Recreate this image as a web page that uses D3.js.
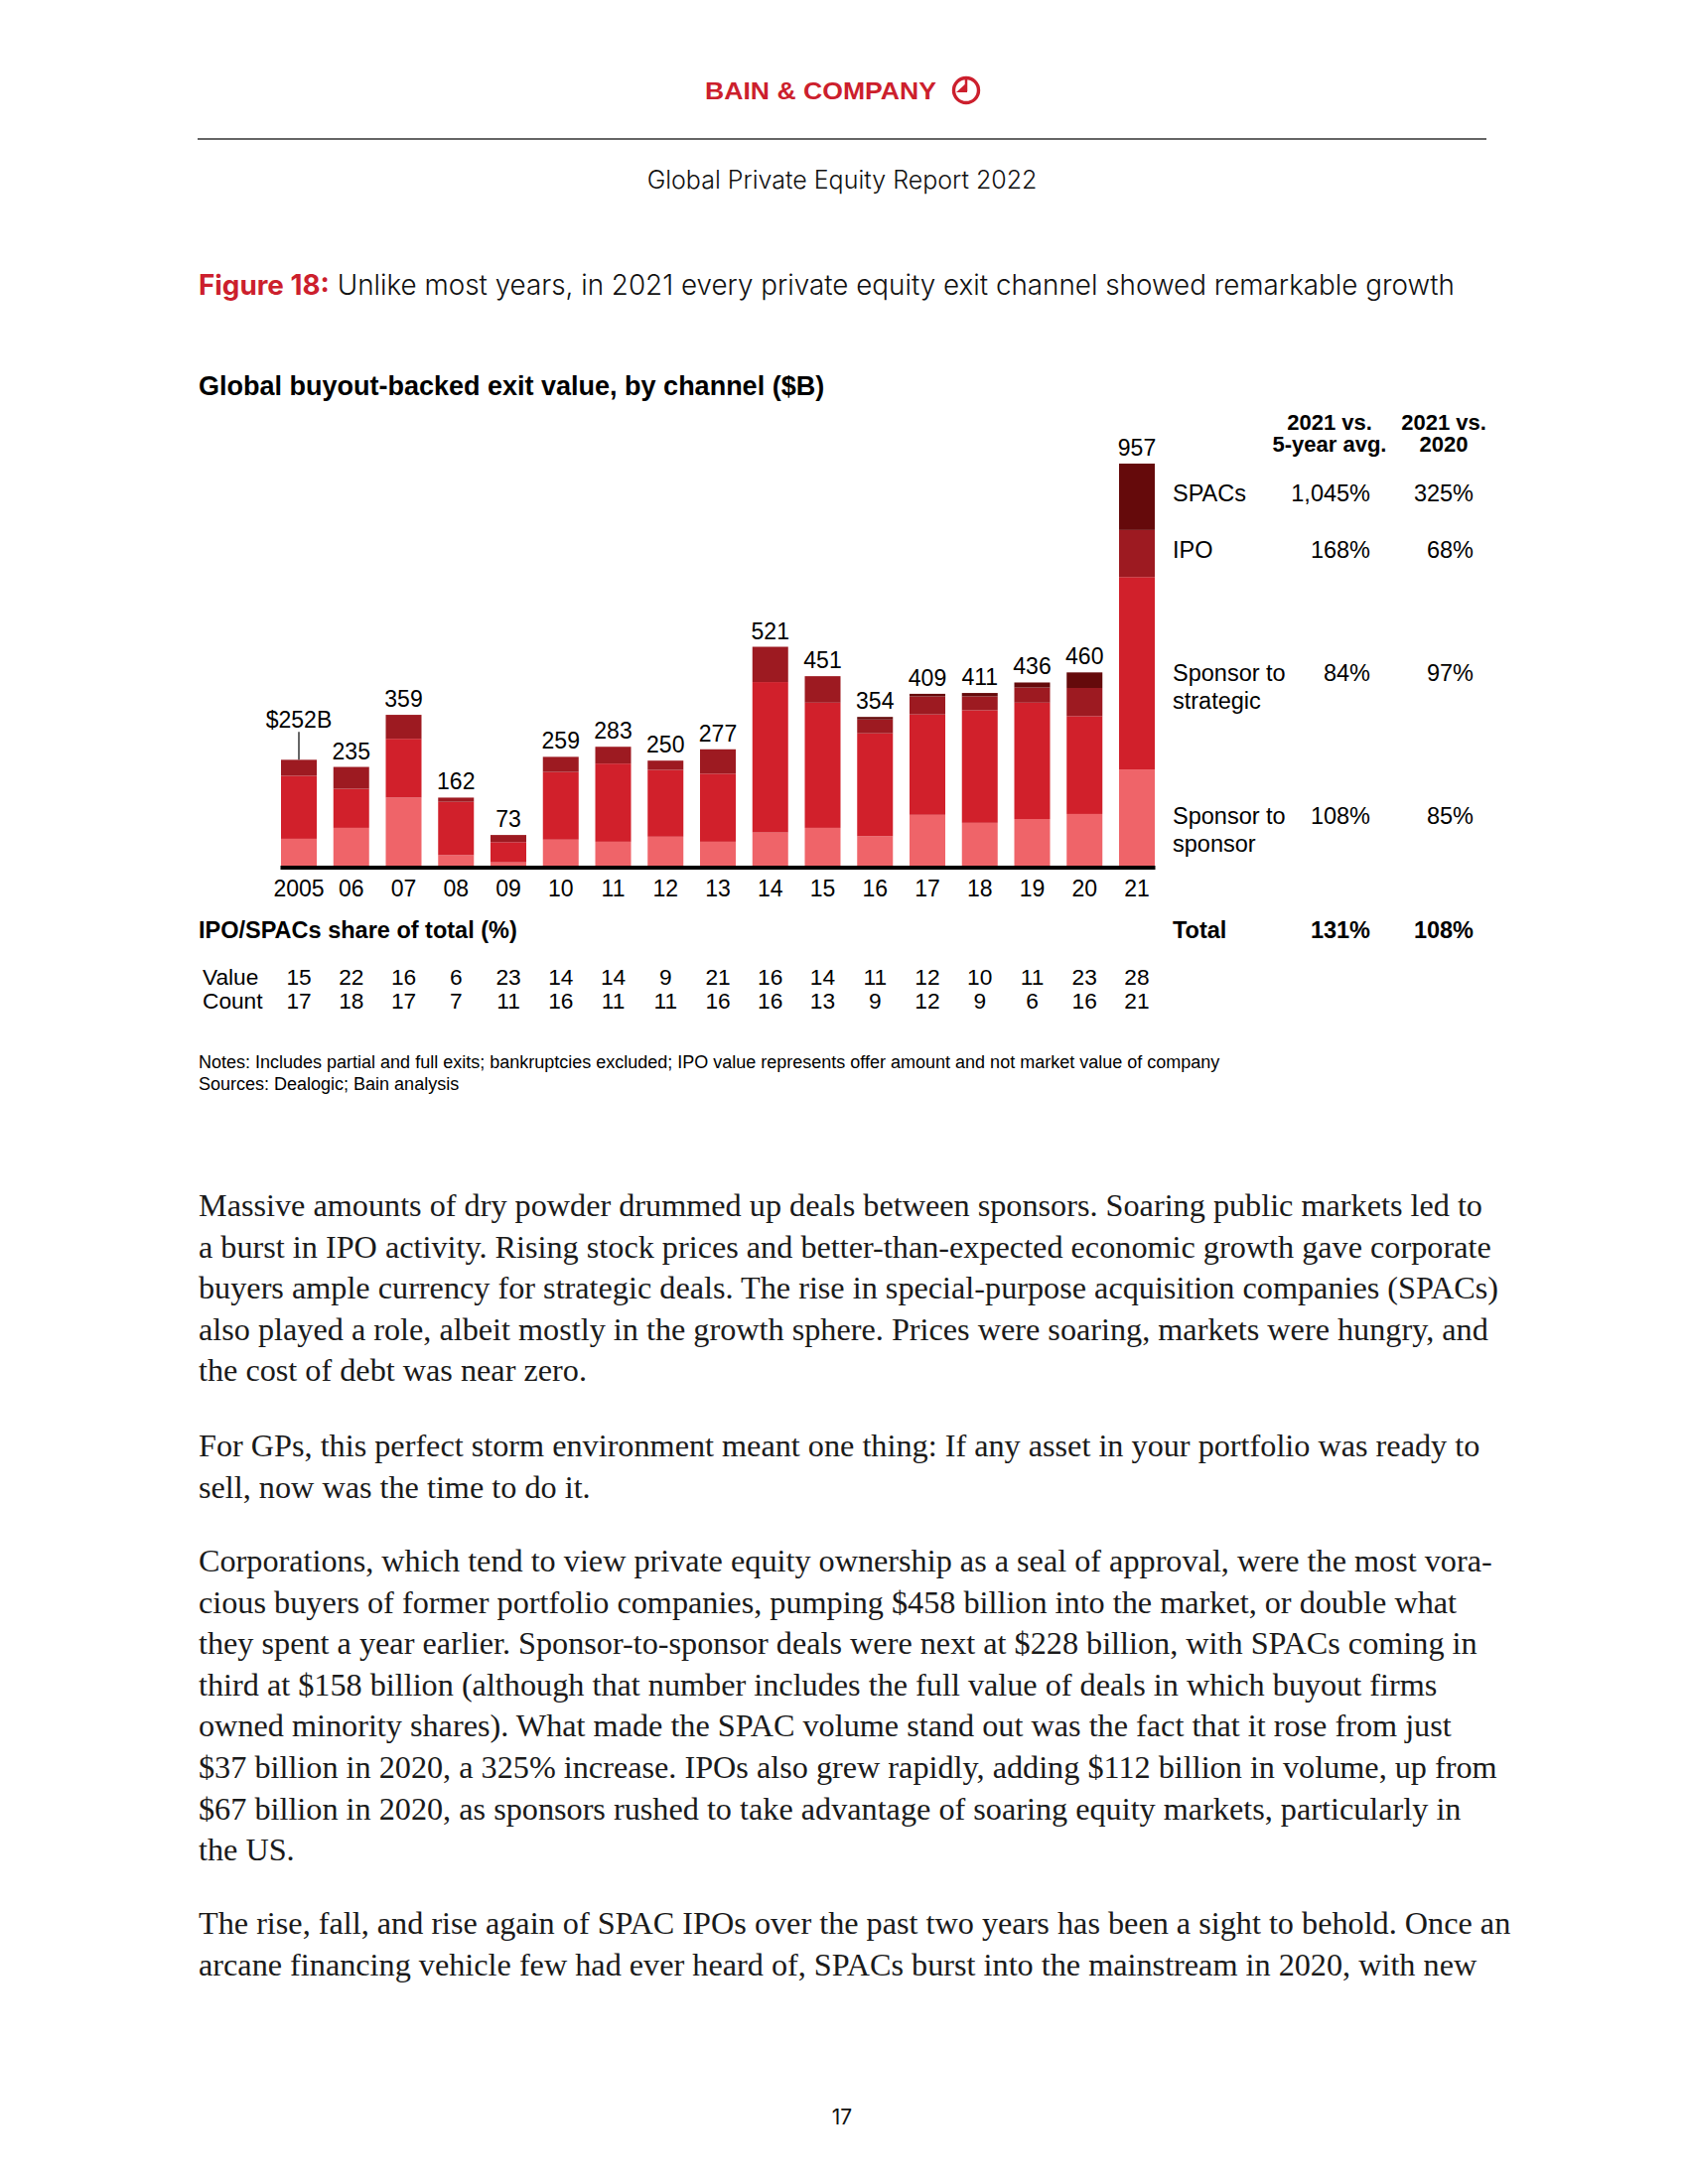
<!DOCTYPE html>
<html>
<head>
<meta charset="utf-8">
<script src="https://cdn.jsdelivr.net/npm/d3@7"></script>
<style>
  body { margin: 0; background: #fff; }
  svg { display: block; }
</style>
</head>
<body>
<div id="app"></div>
<script>
// data ($B)
var years = ['2005','06','07','08','09','10','11','12','13','14','15','16','17','18','19','20','21'];
var sponsorToSponsor   = [64, 90, 162, 25, 8, 62, 57, 69, 57, 79, 90, 70, 121, 102, 111, 123, 229];
var sponsorToStrategic = [150, 93, 140, 127, 48, 161, 186, 159, 162, 358, 298, 245, 239, 268, 277, 233, 458];
var ipo                = [38, 52, 57, 10, 17, 36, 40, 22, 58, 84, 63, 33, 43, 33, 36, 67, 112];
var spacs              = [0, 0, 0, 0, 0, 0, 0, 0, 0, 0, 0, 6, 6, 8, 12, 37, 158];
var totalLabels = ['$252B','235','359','162','73','259','283','250','277','521','451','354','409','411','436','460','957'];
var shareValue = [15, 22, 16, 6, 23, 14, 14, 9, 21, 16, 14, 11, 12, 10, 11, 23, 28];
var shareCount = [17, 18, 17, 7, 11, 16, 11, 11, 16, 16, 13, 9, 12, 9, 6, 16, 21];

var channels = ['Sponsor to sponsor','Sponsor to strategic','IPO','SPACs'];
var tableRows = [
  {label: ['SPACs'], vs5: '1,045%', vs20: '325%'},
  {label: ['IPO'], vs5: '168%', vs20: '68%'},
  {label: ['Sponsor to','strategic'], vs5: '84%', vs20: '97%'},
  {label: ['Sponsor to','sponsor'], vs5: '108%', vs20: '85%'}
];
var totalRow = {vs5: '131%', vs20: '108%'};

var colors = ['#ef6469', '#d1202b', '#9d1a21', '#650a0b'];

var bodyParas = [
  ['Massive amounts of dry powder drummed up deals between sponsors. Soaring public markets led to',
   'a burst in IPO activity. Rising stock prices and better-than-expected economic growth gave corporate',
   'buyers ample currency for strategic deals. The rise in special-purpose acquisition companies (SPACs)',
   'also played a role, albeit mostly in the growth sphere. Prices were soaring, markets were hungry, and',
   'the cost of debt was near zero.'],
  ['For GPs, this perfect storm environment meant one thing: If any asset in your portfolio was ready to',
   'sell, now was the time to do it.'],
  ['Corporations, which tend to view private equity ownership as a seal of approval, were the most vora-',
   'cious buyers of former portfolio companies, pumping $458 billion into the market, or double what',
   'they spent a year earlier. Sponsor-to-sponsor deals were next at $228 billion, with SPACs coming in',
   'third at $158 billion (although that number includes the full value of deals in which buyout firms',
   'owned minority shares). What made the SPAC volume stand out was the fact that it rose from just',
   '$37 billion in 2020, a 325% increase. IPOs also grew rapidly, adding $112 billion in volume, up from',
   '$67 billion in 2020, as sponsors rushed to take advantage of soaring equity markets, particularly in',
   'the US.'],
  ['The rise, fall, and rise again of SPAC IPOs over the past two years has been a sight to behold. Once an',
   'arcane financing vehicle few had ever heard of, SPACs burst into the mainstream in 2020, with new']
];

var W = 1700, H = 2200;
var arial = '"Liberation Sans", Arial, Helvetica, sans-serif';
var sansUI = 'Inter, "Open Sans", sans-serif';
var serif = '"Liberation Serif", "DejaVu Serif", serif';

var svg = d3.select('#app').append('svg')
    .attr('width', W)
    .attr('height', H)
    .attr('viewBox', '0 0 ' + W + ' ' + H);

// page header
var logo = svg.append('g').attr('class', 'logo');
logo.append('text')
    .attr('x', 710).attr('y', 100)
    .attr('textLength', 233).attr('lengthAdjust', 'spacingAndGlyphs')
    .style('font-family', arial).style('font-weight', 700).style('font-size', '23px')
    .style('fill', '#cc1f2d')
    .text('BAIN & COMPANY');
logo.append('circle')
    .attr('cx', 973).attr('cy', 91).attr('r', 12.5)
    .style('fill', 'none').style('stroke', '#cc1f2d').style('stroke-width', 3.4);
logo.append('line')
    .attr('x1', 973).attr('x2', 973).attr('y1', 79).attr('y2', 92)
    .style('stroke', '#cc1f2d').style('stroke-width', 2.5);
logo.append('path')
    .attr('d', 'M974,83 L974,93 L963,93 Z')
    .style('fill', '#cc1f2d');

svg.append('line')
    .attr('x1', 199).attr('x2', 1497).attr('y1', 140).attr('y2', 140)
    .style('stroke', '#333').style('stroke-width', 1.6);

svg.append('text')
    .attr('x', 848).attr('y', 190)
    .attr('text-anchor', 'middle')
    .style('font-family', sansUI).style('font-size', '25px').style('font-weight', 300)
    .style('fill', '#111')
    .text('Global Private Equity Report 2022');

var figTitle = svg.append('text')
    .attr('x', 200).attr('y', 297)
    .style('font-family', sansUI).style('font-size', '27.8px').style('fill', '#111');
figTitle.append('tspan').style('fill', '#cc1f2d').style('font-weight', 700).text('Figure 18:');
figTitle.append('tspan').style('font-weight', 300).text(' Unlike most years, in 2021 every private equity exit channel showed remarkable growth');

// chart
svg.append('text')
    .attr('x', 200).attr('y', 398)
    .style('font-family', arial).style('font-weight', 700).style('font-size', '27px')
    .style('fill', '#000')
    .text('Global buyout-backed exit value, by channel ($B)');

var rows = years.map(function(y, i) {
  return {year: y, 'Sponsor to sponsor': sponsorToSponsor[i], 'Sponsor to strategic': sponsorToStrategic[i],
          'IPO': ipo[i], 'SPACs': spacs[i], label: totalLabels[i], value: shareValue[i], count: shareCount[i]};
});
var stacked = d3.stack().keys(channels)(rows);

var baseY = 872;
var x = d3.scaleBand()
    .domain(years)
    .range([283, 1163])
    .paddingInner(0.3175)
    .paddingOuter(0);

var y = d3.scaleLinear()
    .domain([0, 957])
    .range([baseY, 467]);

var chart = svg.append('g').attr('class', 'chart');

chart.selectAll('g.series')
    .data(stacked)
  .enter().append('g')
    .attr('class', 'series')
    .style('fill', function(d, i) { return colors[i]; })
  .selectAll('rect')
    .data(function(d) { return d; })
  .enter().append('rect')
    .attr('x', function(d) { return x(d.data.year); })
    .attr('width', x.bandwidth())
    .attr('y', function(d) { return y(d[1]); })
    .attr('height', function(d) { return y(d[0]) - y(d[1]); });

var tot = function(d) { return d['Sponsor to sponsor'] + d['Sponsor to strategic'] + d.IPO + d.SPACs; };

chart.selectAll('text.total')
    .data(rows)
  .enter().append('text')
    .attr('class', 'total')
    .attr('x', function(d) { return x(d.year) + x.bandwidth() / 2; })
    .attr('y', function(d, i) { return y(tot(d)) - (i === 0 ? 32 : 8); })
    .attr('text-anchor', 'middle')
    .style('font-family', arial).style('font-size', '23px').style('fill', '#000')
    .text(function(d) { return d.label; });

// leader line on the first bar
chart.append('line')
    .attr('x1', x(years[0]) + x.bandwidth() / 2)
    .attr('x2', x(years[0]) + x.bandwidth() / 2)
    .attr('y1', y(tot(rows[0])) - 28)
    .attr('y2', y(tot(rows[0])))
    .style('stroke', '#000').style('stroke-width', 1.2);

// axis
var xAxis = d3.axisBottom(x).tickSize(0).tickPadding(15);
var axisG = chart.append('g')
    .attr('transform', 'translate(0,' + baseY + ')')
    .call(xAxis);
axisG.select('.domain')
    .attr('d', 'M' + (x(years[0]) - 0.5) + ',2H' + (x(years[years.length - 1]) + x.bandwidth() + 0.5))
    .style('stroke', '#000').style('stroke-width', 4);
axisG.selectAll('text')
    .style('font-family', arial).style('font-size', '23px').style('fill', '#000');

// share table
svg.append('text')
    .attr('x', 200).attr('y', 945)
    .style('font-family', arial).style('font-weight', 700).style('font-size', '23.5px')
    .text('IPO/SPACs share of total (%)');

var shareG = svg.append('g').style('font-family', arial).style('font-size', '22.7px').style('fill', '#000');
shareG.append('text').attr('x', 204).attr('y', 992).text('Value');
shareG.append('text').attr('x', 204).attr('y', 1016).text('Count');
shareG.selectAll('text.v')
    .data(rows)
  .enter().append('text')
    .attr('class', 'v')
    .attr('x', function(d) { return x(d.year) + x.bandwidth() / 2; })
    .attr('y', 992)
    .attr('text-anchor', 'middle')
    .text(function(d) { return d.value; });
shareG.selectAll('text.c')
    .data(rows)
  .enter().append('text')
    .attr('class', 'c')
    .attr('x', function(d) { return x(d.year) + x.bandwidth() / 2; })
    .attr('y', 1016)
    .attr('text-anchor', 'middle')
    .text(function(d) { return d.count; });

// growth table on the right
var tbl = svg.append('g').style('font-family', arial).style('fill', '#000');
var col1 = 1380, col2 = 1484, colLabel = 1181;
var hdr = tbl.append('g').style('font-weight', 700).style('font-size', '22px').attr('text-anchor', 'middle');
hdr.append('text').attr('x', 1339).attr('y', 433).text('2021 vs.');
hdr.append('text').attr('x', 1339).attr('y', 455).text('5-year avg.');
hdr.append('text').attr('x', 1454).attr('y', 433).text('2021 vs.');
hdr.append('text').attr('x', 1454).attr('y', 455).text('2020');

var rowY = [505, 562, 686, 830];
tableRows.forEach(function(r, i) {
  var g = tbl.append('g').style('font-size', '23.5px');
  r.label.forEach(function(l, j) {
    g.append('text').attr('x', colLabel).attr('y', rowY[i] + j * 28).text(l);
  });
  g.append('text').attr('x', col1).attr('y', rowY[i]).attr('text-anchor', 'end').text(r.vs5);
  g.append('text').attr('x', col2).attr('y', rowY[i]).attr('text-anchor', 'end').text(r.vs20);
});
var tg = tbl.append('g').style('font-size', '23.5px').style('font-weight', 700);
tg.append('text').attr('x', colLabel).attr('y', 945).text('Total');
tg.append('text').attr('x', col1).attr('y', 945).attr('text-anchor', 'end').text(totalRow.vs5);
tg.append('text').attr('x', col2).attr('y', 945).attr('text-anchor', 'end').text(totalRow.vs20);

// notes
var notes = svg.append('g').style('font-family', arial).style('font-size', '18px').style('fill', '#000');
notes.append('text').attr('x', 200).attr('y', 1076)
    .text('Notes: Includes partial and full exits; bankruptcies excluded; IPO value represents offer amount and not market value of company');
notes.append('text').attr('x', 200).attr('y', 1098)
    .text('Sources: Dealogic; Bain analysis');

// body text
var paraStart = [1225, 1467, 1583, 1948];
var body = svg.append('g').style('font-family', serif).style('font-size', '28px').style('fill', '#1a1a1a');
bodyParas.forEach(function(p, i) {
  body.selectAll(null)
      .data(p)
    .enter().append('text')
      .attr('x', 200)
      .attr('y', function(d, j) { return paraStart[i] + j * 41.6; })
      .text(function(d) { return d; });
});
// fit body size to the measured width of the first line
var first = body.select('text').node();
var w = first.getComputedTextLength();
body.style('font-size', (28 * 1293 / w).toFixed(2) + 'px');

svg.append('text')
    .attr('x', 848).attr('y', 2140)
    .attr('text-anchor', 'middle')
    .style('font-family', sansUI).style('font-size', '21px').style('fill', '#111')
    .text('17');
</script>
</body>
</html>
